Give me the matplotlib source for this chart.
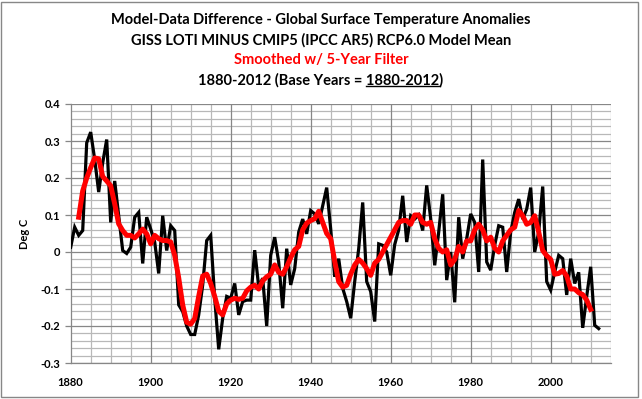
import numpy as np
import matplotlib

matplotlib.use("Agg")
import matplotlib.pyplot as plt
from matplotlib.patches import Rectangle
from matplotlib.lines import Line2D

plt.rcParams["font.family"] = ["Lato", "DejaVu Sans"]

# annual model-data difference, 1880-2012
years = list(range(1880, 2013))
annual = [
    0.013, 0.067, 0.045, 0.058, 0.295, 0.324, 0.250, 0.162, 0.241, 0.304,   # 1880s
    0.080, 0.192, 0.098, 0.004, -0.004, 0.013, 0.094, 0.107, -0.031, 0.094,  # 1890s
    0.062, 0.027, -0.058, 0.098, 0.004, 0.071, 0.058, -0.143, -0.161, -0.200,  # 1900s
    -0.223, -0.223, -0.170, -0.089, 0.031, 0.045, -0.125, -0.263, -0.179, -0.120,  # 1910s
    -0.125, -0.085, -0.170, -0.134, -0.130, -0.130, 0.005, -0.094, -0.071, -0.200,  # 1920s
    -0.009, 0.040, -0.027, -0.152, 0.009, -0.089, -0.045, 0.054, 0.089, 0.049,  # 1930s
    0.112, 0.103, 0.076, 0.125, 0.174, 0.062, -0.067, -0.018, -0.098, -0.134,  # 1940s
    -0.179, -0.080, 0.009, 0.134, -0.080, -0.107, -0.188, 0.022, 0.018, 0.000,  # 1950s
    -0.063, 0.020, 0.060, 0.152, 0.027, 0.098, 0.089, 0.100, 0.058, 0.180,  # 1960s
    0.090, -0.036, 0.054, 0.156, -0.076, 0.000, -0.136, 0.094, -0.018, 0.036,  # 1970s
    0.103, 0.080, -0.054, 0.250, -0.027, -0.049, 0.018, 0.071, 0.067, -0.054,  # 1980s
    0.054, 0.107, 0.143, 0.089, 0.116, 0.174, 0.000, 0.054, 0.177, -0.080,  # 1990s
    -0.103, -0.054, -0.009, -0.018, -0.116, -0.018, -0.085, -0.055, -0.205, -0.120,  # 2000s
    -0.040, -0.198, -0.207,  # 2010s
]

# 5-year smoothed, 1882-2010
smooth_years = list(range(1882, 2011))
smoothed = [
    0.094, 0.165, 0.200, 0.228, 0.254, 0.252, 0.204, 0.192,  # 1882-1889
    0.179, 0.130, 0.076, 0.058, 0.045, 0.045, 0.038, 0.049, 0.062, 0.049,  # 1890s
    0.022, 0.045, 0.036, 0.031, 0.031, 0.027, -0.009, -0.070, -0.143, -0.190,  # 1900s
    -0.195, -0.180, -0.120, -0.065, -0.060, -0.085, -0.120, -0.160, -0.170, -0.140,  # 1910s
    -0.130, -0.125, -0.128, -0.125, -0.105, -0.095, -0.090, -0.100, -0.078, -0.067,  # 1920s
    -0.060, -0.035, -0.055, -0.060, -0.040, -0.015, 0.006, 0.015, 0.060, 0.078,  # 1930s
    0.085, 0.090, 0.110, 0.080, 0.050, 0.036, -0.025, -0.080, -0.095, -0.090,  # 1940s
    -0.060, -0.035, -0.020, -0.030, -0.045, -0.063, -0.030, -0.020, 0.000, 0.020,  # 1950s
    0.040, 0.060, 0.080, 0.085, 0.085, 0.075, 0.100, 0.100, 0.080, 0.075,  # 1960s
    0.080, 0.036, 0.010, 0.000, 0.006, -0.035, -0.020, 0.015, 0.000, 0.030,  # 1970s
    0.030, 0.060, 0.075, 0.060, 0.030, 0.040, 0.010, 0.000, 0.030, 0.045,  # 1980s
    0.060, 0.067, 0.112, 0.098, 0.075, 0.080, 0.098, 0.054, 0.004, -0.010,  # 1990s
    -0.020, -0.060, -0.058, -0.050, -0.065, -0.100, -0.100, -0.110, -0.115, -0.130,  # 2000s
    -0.155,  # 2010
]

yticks = [0.4, 0.3, 0.2, 0.1, 0, -0.1, -0.2, -0.3]
ytick_labels = ["0.4", "0.3", "0.2", "0.1", "0", "-0.1", "-0.2", "-0.3"]
xticks = [1880, 1900, 1920, 1940, 1960, 1980, 2000]

titles = [
    ("Model-Data Difference - Global Surface Temperature Anomalies", "black"),
    ("GISS LOTI MINUS CMIP5 (IPCC AR5) RCP6.0 Model Mean", "black"),
    ("Smoothed w/ 5-Year Filter", "#ff0000"),
]

fig = plt.figure(figsize=(6.42, 3.99), dpi=100)
ax = fig.add_axes([70.7 / 642, 1 - 363 / 399, 540 / 642, 259 / 399])

major_c = "#878787"
minor_c = "#b8b8b8"

ax.set_xlim(1880, 2015)
ax.set_ylim(-0.3, 0.4)

# grid
for y in np.arange(-0.28, 0.4, 0.02):
    if abs(round(y * 10) - y * 10) > 1e-6:
        ax.axhline(y, color=minor_c, lw=0.9, zorder=0)
for y in yticks:
    ax.axhline(y, color=major_c, lw=0.9, zorder=0.5)
for x in range(1885, 2016, 5):
    if x % 20 != 0:
        ax.axvline(x, color=minor_c, lw=0.9, zorder=0)
for x in xticks[1:]:
    ax.axvline(x, color=major_c, lw=0.9, zorder=0.5)

ax.plot(years, annual, color="black", lw=2.3, zorder=3, solid_joinstyle="miter")
ax.plot(smooth_years, smoothed, color="#ff0000", lw=3.6, zorder=4)

for s in ["top", "right"]:
    ax.spines[s].set_visible(False)
for s in ["left", "bottom"]:
    ax.spines[s].set_color(major_c)
    ax.spines[s].set_linewidth(0.9)

ax.set_yticks(yticks)
ax.set_yticklabels(ytick_labels)
ax.set_xticks(xticks)
ax.tick_params(axis="y", direction="out", length=4.5, width=0.9, color=major_c, pad=3,
               labelsize=8)
ax.tick_params(axis="x", length=0, pad=10, labelsize=8)
for lab in ax.get_xticklabels() + ax.get_yticklabels():
    lab.set_fontweight("bold")

fig.text(25 / 642, 1 - 234 / 399, "Deg C", rotation=90, ha="center", va="center",
         fontsize=8, fontweight="bold")

for i, (t, c) in enumerate(titles):
    fig.text(0.5, 1 - (20 + 20 * i) / 399, t, ha="center", va="center",
             fontsize=10.5, fontweight="bold", color=c)

# last title line with underlined base years
line4 = "1880-2012 (Base Years = 1880-2012)"
y4 = 1 - 80 / 399
t4 = fig.text(0.5, y4, line4, ha="center", va="center", fontsize=10.5,
              fontweight="bold")
fig.canvas.draw()
r = fig.canvas.get_renderer()
bb = t4.get_window_extent(r)
pre = fig.text(0, 0, "1880-2012 (Base Years = ", fontsize=10.5, fontweight="bold")
und = fig.text(0, 0, "1880-2012", fontsize=10.5, fontweight="bold")
w_pre = pre.get_window_extent(r).width
w_und = und.get_window_extent(r).width
pre.remove()
und.remove()
x0 = (bb.x0 + w_pre) / fig.bbox.width
x1 = (bb.x0 + w_pre + w_und) / fig.bbox.width
yu = (bb.y0 + 1.5) / fig.bbox.height
fig.add_artist(Line2D([x0, x1], [yu, yu], color="black", lw=1.0,
                      transform=fig.transFigure))

# outer chart border
fig.add_artist(Rectangle((0.002, 0.006), 0.992, 0.99, fill=False,
                         edgecolor="#878787", lw=1.0, transform=fig.transFigure))

fig.savefig("out.png", dpi=100)
